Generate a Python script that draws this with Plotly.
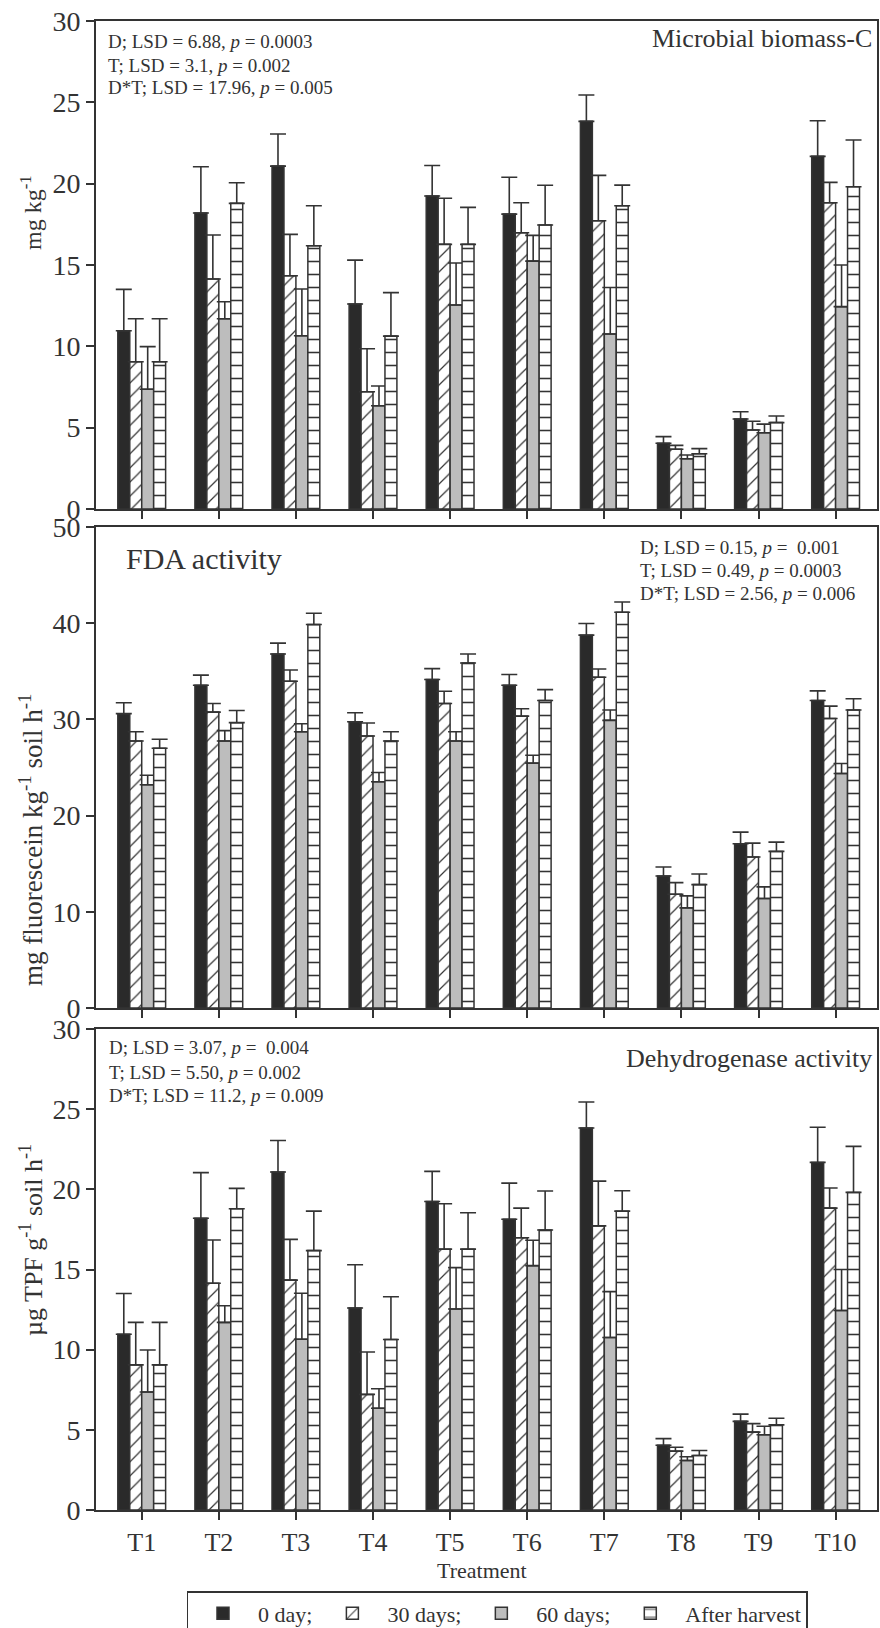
import plotly.graph_objects as go
from plotly.subplots import make_subplots

treatments = ["T1", "T2", "T3", "T4", "T5", "T6", "T7", "T8", "T9", "T10"]
series_names = ["0 day;", "30 days;", "60 days;", "After harvest"]

# Microbial biomass-C (mg kg-1)
mbc_0d = [10.96, 18.2, 21.08, 12.6, 19.24, 18.13, 23.83, 4.04, 5.53, 21.68]
mbc_0d_err = [2.54, 2.84, 1.97, 2.7, 1.88, 2.26, 1.62, 0.41, 0.45, 2.19]
mbc_30d = [9.05, 14.14, 14.34, 7.21, 16.27, 16.98, 17.72, 3.67, 4.86, 18.83]
mbc_30d_err = [2.65, 2.7, 2.54, 2.64, 2.83, 1.85, 2.79, 0.24, 0.53, 1.25]
mbc_60d = [7.36, 11.7, 10.65, 6.35, 12.54, 15.24, 10.76, 3.09, 4.69, 12.44]
mbc_60d_err = [2.62, 1.04, 2.87, 1.21, 2.58, 1.58, 2.86, 0.23, 0.53, 2.56]
mbc_ah = [9.05, 18.79, 16.18, 10.63, 16.27, 17.46, 18.64, 3.4, 5.31, 19.81]
mbc_ah_err = [2.65, 1.27, 2.46, 2.67, 2.27, 2.44, 1.27, 0.31, 0.41, 2.87]

# FDA activity (mg fluorescein kg-1 soil h-1)
fda_0d = [30.6, 33.55, 36.8, 29.76, 34.14, 33.55, 38.76, 13.72, 17.07, 31.97]
fda_0d_err = [1.13, 1.05, 1.13, 0.93, 1.14, 1.11, 1.21, 0.94, 1.21, 1.0]
fda_30d = [27.76, 30.76, 33.97, 28.28, 31.66, 30.34, 34.38, 11.83, 15.69, 30.1]
fda_30d_err = [0.96, 0.9, 1.17, 1.34, 1.27, 0.76, 0.86, 1.2, 1.45, 1.28]
fda_60d = [23.2, 27.76, 28.72, 23.52, 27.76, 25.45, 29.9, 10.41, 11.38, 24.38]
fda_60d_err = [1.0, 1.07, 0.83, 0.96, 0.96, 0.83, 1.07, 1.25, 1.21, 1.03]
fda_ah = [27.0, 29.66, 39.86, 27.76, 35.86, 31.97, 41.14, 12.83, 16.28, 30.97]
fda_ah_err = [0.93, 1.27, 1.17, 0.96, 0.94, 1.13, 1.06, 1.1, 0.96, 1.17]

# Dehydrogenase activity (ug TPF g-1 soil h-1)
dha_0d = [10.96, 18.2, 21.08, 12.6, 19.24, 18.13, 23.83, 4.04, 5.53, 21.68]
dha_0d_err = [2.54, 2.84, 1.97, 2.7, 1.88, 2.26, 1.62, 0.41, 0.45, 2.19]
dha_30d = [9.05, 14.14, 14.34, 7.21, 16.27, 16.98, 17.72, 3.67, 4.86, 18.83]
dha_30d_err = [2.65, 2.7, 2.54, 2.64, 2.83, 1.85, 2.79, 0.24, 0.53, 1.25]
dha_60d = [7.36, 11.7, 10.65, 6.35, 12.54, 15.24, 10.76, 3.09, 4.69, 12.44]
dha_60d_err = [2.62, 1.04, 2.87, 1.21, 2.58, 1.58, 2.86, 0.23, 0.53, 2.56]
dha_ah = [9.05, 18.79, 16.18, 10.63, 16.27, 17.46, 18.64, 3.4, 5.31, 19.81]
dha_ah_err = [2.65, 1.27, 2.46, 2.67, 2.27, 2.44, 1.27, 0.31, 0.41, 2.87]

FONT = "Liberation Serif, Times New Roman, serif"
INK = "#333333"
W, H = 880, 1628
ML, MR, MT, MB = 96, 3, 21, 118
PH = H - MT - MB

def py(pix):
    return (H - MB - pix) / PH

fig = make_subplots(rows=3, cols=1, shared_xaxes=False, vertical_spacing=0.0)
domains = [(py(509), py(21)), (py(1008), py(527)), (py(1510), py(1029))]

styles = [
    dict(color="#2a2a2a", pattern=dict(shape="")),
    dict(color="white", pattern=dict(shape="/", fgcolor=INK, bgcolor="white", size=10, solidity=0.12, fillmode="replace")),
    dict(color="#bdbdbd", pattern=dict(shape="")),
    dict(color="white", pattern=dict(shape="-", fgcolor=INK, bgcolor="white", size=13, solidity=0.12, fillmode="replace")),
]

panels = [
    ([mbc_0d, mbc_30d, mbc_60d, mbc_ah], [mbc_0d_err, mbc_30d_err, mbc_60d_err, mbc_ah_err]),
    ([fda_0d, fda_30d, fda_60d, fda_ah], [fda_0d_err, fda_30d_err, fda_60d_err, fda_ah_err]),
    ([dha_0d, dha_30d, dha_60d, dha_ah], [dha_0d_err, dha_30d_err, dha_60d_err, dha_ah_err]),
]

xpos = list(range(len(treatments)))
for r, (vals, errs) in enumerate(panels, start=1):
    for k in range(4):
        st = styles[k]
        fig.add_trace(go.Bar(
            x=xpos, y=vals[k], name=series_names[k],
            legendgroup=series_names[k], showlegend=(r == 1),
            marker=dict(color=st["color"], pattern=st["pattern"],
                        line=dict(color=INK, width=1.5)),
            error_y=dict(type="data", array=errs[k], arrayminus=[0] * len(errs[k]),
                         symmetric=False, color=INK, thickness=1.6, width=8),
        ), row=r, col=1)

yranges = [(0, 30, 5), (0, 50, 10), (0, 30, 5)]
for i in range(3):
    ax = "" if i == 0 else str(i + 1)
    fig.layout["xaxis" + ax].update(
        domain=[0, 1], range=[-0.593, 9.537], tickmode="array", tickvals=xpos,
        ticktext=treatments if i == 2 else [""] * 10, showticklabels=(i == 2),
        ticks="outside", ticklen=8, tickwidth=1.5, tickcolor=INK,
        showline=True, linecolor=INK, linewidth=2, mirror=True,
        showgrid=False, zeroline=False, automargin=False,
        tickfont=dict(family=FONT, size=26, color=INK))
    lo, hi, dt = yranges[i]
    fig.layout["yaxis" + ax].update(
        domain=list(domains[i]), range=[lo, hi], dtick=dt, tick0=0,
        ticks="outside", ticklen=8, tickwidth=1.5, tickcolor=INK,
        showline=True, linecolor=INK, linewidth=2, mirror=True,
        showgrid=False, zeroline=False, automargin=False,
        tickfont=dict(family=FONT, size=28, color=INK))

ann = []
def add_text(text, x, y, size, xanchor="left", angle=0, yanchor="middle"):
    ann.append(dict(text=text, xref="paper", yref="paper", x=(x - ML) / (W - ML - MR), y=py(y),
                    xanchor=xanchor, yanchor=yanchor, showarrow=False, textangle=angle,
                    font=dict(family=FONT, size=size, color=INK)))

# panel 1
add_text("D; LSD = 6.88, <i>p</i> = 0.0003", 106, 42, 19)
add_text("T; LSD = 3.1, <i>p</i> = 0.002", 106, 65, 19)
add_text("D*T; LSD = 17.96, <i>p</i> = 0.005", 106, 88, 19)
add_text("Microbial biomass-C", 874, 38, 26, xanchor="right")
# panel 2
add_text("D; LSD = 0.15, <i>p</i> =  0.001", 638, 547, 19)
add_text("T; LSD = 0.49, <i>p</i> = 0.0003", 638, 570, 19)
add_text("D*T; LSD = 2.56, <i>p</i> = 0.006", 638, 594, 19)
add_text("FDA activity", 124, 558, 30)
# panel 3
add_text("D; LSD = 3.07, <i>p</i> =  0.004", 107, 1047, 19)
add_text("T; LSD = 5.50, <i>p</i> = 0.002", 107, 1072, 19)
add_text("D*T; LSD = 11.2, <i>p</i> = 0.009", 107, 1095, 19)
add_text("Dehydrogenase activity", 874, 1058, 26, xanchor="right")
# axis titles
add_text("mg kg<sup>-1</sup>", 31, 213, 24, xanchor="center", angle=-90)
add_text("mg fluorescein kg<sup>-1</sup> soil h<sup>-1</sup>", 31, 840, 27, xanchor="center", angle=-90)
add_text("µg TPF g<sup>-1</sup> soil h<sup>-1</sup>", 31, 1240, 26, xanchor="center", angle=-90)
add_text("Treatment", 482, 1570, 22, xanchor="center")

fig.update_layout(
    width=W, height=H, margin=dict(l=ML, r=MR, t=MT, b=MB, autoexpand=False),
    paper_bgcolor="white", plot_bgcolor="white",
    barmode="group", bargap=0.38, bargroupgap=0.0,
    annotations=ann,
    legend=dict(orientation="h", x=(497 - ML) / (W - ML - MR), y=py(1591), xanchor="center", yanchor="top",
                bordercolor=INK, borderwidth=1.5, bgcolor="white", itemwidth=60,
                font=dict(family=FONT, size=22, color=INK), traceorder="normal"),
    font=dict(family=FONT, color=INK),
)

fig.write_html("out.html", config={"displayModeBar": False},
               post_script="document.body.style.margin='0px';document.body.style.padding='0px';"
                           "document.documentElement.style.overflow='hidden';")
